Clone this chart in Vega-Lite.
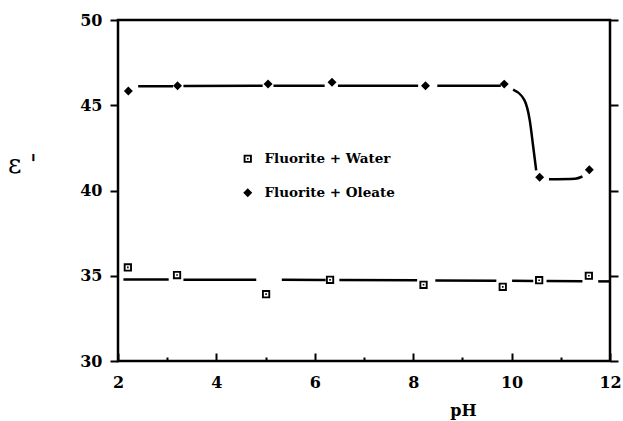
{
  "$schema": "https://vega.github.io/schema/vega-lite/v6.json",
  "width": 492,
  "height": 341,
  "autosize": "none",
  "padding": {"left": 118, "top": 20, "right": 13, "bottom": 60},
  "background": "white",
  "config": {
    "view": {"stroke": "black", "strokeWidth": 2.5},
    "axis": {
      "labelFont": "DejaVu Serif",
      "labelFontWeight": "bold",
      "labelFontSize": 16,
      "labelColor": "black",
      "tickColor": "black",
      "tickWidth": 2,
      "domain": false,
      "grid": false,
      "labelFlush": false
    }
  },
  "datasets": {
    "curves": [
      {"x": 2.11, "y": 34.78, "seg": "w1"}, {"x": 3.03, "y": 34.78, "seg": "w1"},
      {"x": 3.33, "y": 34.77, "seg": "w2"}, {"x": 4.81, "y": 34.76, "seg": "w2"},
      {"x": 5.33, "y": 34.76, "seg": "w3"}, {"x": 6.22, "y": 34.75, "seg": "w3"},
      {"x": 6.50, "y": 34.75, "seg": "w4"}, {"x": 8.08, "y": 34.73, "seg": "w4"},
      {"x": 8.45, "y": 34.72, "seg": "w5"}, {"x": 9.69, "y": 34.70, "seg": "w5"},
      {"x": 10.01, "y": 34.70, "seg": "w6"}, {"x": 10.44, "y": 34.69, "seg": "w6"},
      {"x": 10.71, "y": 34.69, "seg": "w7"}, {"x": 11.44, "y": 34.68, "seg": "w7"},
      {"x": 11.76, "y": 34.67, "seg": "w8"}, {"x": 12.0, "y": 34.67, "seg": "w8"},
      {"x": 2.41, "y": 46.12, "seg": "o1"}, {"x": 3.12, "y": 46.12, "seg": "o1"},
      {"x": 3.33, "y": 46.13, "seg": "o2"}, {"x": 4.94, "y": 46.14, "seg": "o2"},
      {"x": 5.16, "y": 46.14, "seg": "o3"}, {"x": 6.2, "y": 46.14, "seg": "o3"},
      {"x": 6.47, "y": 46.14, "seg": "o4"}, {"x": 8.1, "y": 46.14, "seg": "o4"},
      {"x": 8.49, "y": 46.14, "seg": "o5"}, {"x": 9.78, "y": 46.15, "seg": "o5"},
      {"x": 10.03, "y": 45.92, "seg": "o6"}, {"x": 10.26, "y": 45.3, "seg": "o6"},
      {"x": 10.37, "y": 44.1, "seg": "o6"}, {"x": 10.44, "y": 42.55, "seg": "o6"},
      {"x": 10.5, "y": 41.18, "seg": "o6"},
      {"x": 10.76, "y": 40.66, "seg": "o7"}, {"x": 11.29, "y": 40.69, "seg": "o7"},
      {"x": 11.44, "y": 40.82, "seg": "o7"}
    ],
    "points": [
      {"pH": 2.21, "eps": 45.84, "series": "Fluorite + Oleate"},
      {"pH": 3.21, "eps": 46.14, "series": "Fluorite + Oleate"},
      {"pH": 5.05, "eps": 46.25, "series": "Fluorite + Oleate"},
      {"pH": 6.35, "eps": 46.35, "series": "Fluorite + Oleate"},
      {"pH": 8.25, "eps": 46.14, "series": "Fluorite + Oleate"},
      {"pH": 9.85, "eps": 46.24, "series": "Fluorite + Oleate"},
      {"pH": 10.57, "eps": 40.78, "series": "Fluorite + Oleate"},
      {"pH": 11.58, "eps": 41.22, "series": "Fluorite + Oleate"},
      {"pH": 2.2, "eps": 35.49, "series": "Fluorite + Water"},
      {"pH": 3.2, "eps": 35.04, "series": "Fluorite + Water"},
      {"pH": 5.01, "eps": 33.92, "series": "Fluorite + Water"},
      {"pH": 6.31, "eps": 34.76, "series": "Fluorite + Water"},
      {"pH": 8.21, "eps": 34.47, "series": "Fluorite + Water"},
      {"pH": 9.82, "eps": 34.35, "series": "Fluorite + Water"},
      {"pH": 10.56, "eps": 34.74, "series": "Fluorite + Water"},
      {"pH": 11.57, "eps": 35.0, "series": "Fluorite + Water"}
    ]
  },
  "resolve": {"axis": {"x": "independent", "y": "independent"}},
  "layer": [
    {
      "data": {"name": "curves"},
      "mark": {"type": "line", "color": "black", "strokeWidth": 2.5, "interpolate": "monotone"},
      "encoding": {
        "x": {
          "field": "x", "type": "quantitative",
          "scale": {"domain": [2, 12], "nice": false, "zero": false},
          "axis": {
            "orient": "bottom",
            "values": [2, 4, 6, 8, 10, 12],
            "tickSize": -8,
            "labelPadding": 21,
            "title": "pH",
            "titleFont": "DejaVu Serif",
            "titleFontWeight": "bold",
            "titleFontSize": 16,
            "titleColor": "black",
            "titleX": 345,
            "titleY": 54,
            "titleAlign": "center",
            "titleBaseline": "alphabetic"
          }
        },
        "y": {
          "field": "y", "type": "quantitative",
          "scale": {"domain": [30, 50], "nice": false, "zero": false},
          "axis": {
            "orient": "left",
            "values": [30, 35, 40, 45, 50],
            "tickSize": 8,
            "labelPadding": 8,
            "title": "ε '",
            "titleAngle": 0,
            "titleFont": "DejaVu Serif",
            "titleFontWeight": "normal",
            "titleFontSize": 26,
            "titleColor": "black",
            "titleX": -96,
            "titleY": 152,
            "titleAlign": "center",
            "titleBaseline": "alphabetic"
          }
        },
        "detail": {"field": "seg", "type": "nominal"}
      }
    },
    {
      "data": {"name": "points"},
      "mark": {"type": "point", "filled": true, "color": "black", "size": 80, "opacity": 1, "strokeWidth": 0},
      "encoding": {
        "x": {
          "field": "pH", "type": "quantitative",
          "axis": {"orient": "bottom", "values": [3, 5, 7, 9, 11], "labels": false, "tickSize": -4, "title": null}
        },
        "y": {
          "field": "eps", "type": "quantitative",
          "axis": {"orient": "right", "values": [30, 35, 40, 45, 50], "labels": false, "tickSize": 8, "title": null}
        },
        "shape": {
          "field": "series", "type": "nominal",
          "scale": {
            "domain": ["Fluorite + Water", "Fluorite + Oleate"],
            "range": ["M-0.92,-0.92H0.92V0.92H-0.92Z M-0.5,-0.5V0.5H0.5V-0.5Z M-0.18,-0.18H0.18V0.18H-0.18Z", "diamond"]
          },
          "legend": {
            "orient": "none",
            "legendX": 123,
            "legendY": 132,
            "title": null,
            "padding": 0,
            "symbolSize": 80,
            "symbolFillColor": "black",
            "symbolStrokeWidth": 0,
            "labelFont": "DejaVu Serif",
            "labelFontWeight": "bold",
            "labelFontSize": 13.5,
            "labelColor": "black",
            "labelOffset": 10,
            "rowPadding": 19
          }
        }
      }
    }
  ]
}
